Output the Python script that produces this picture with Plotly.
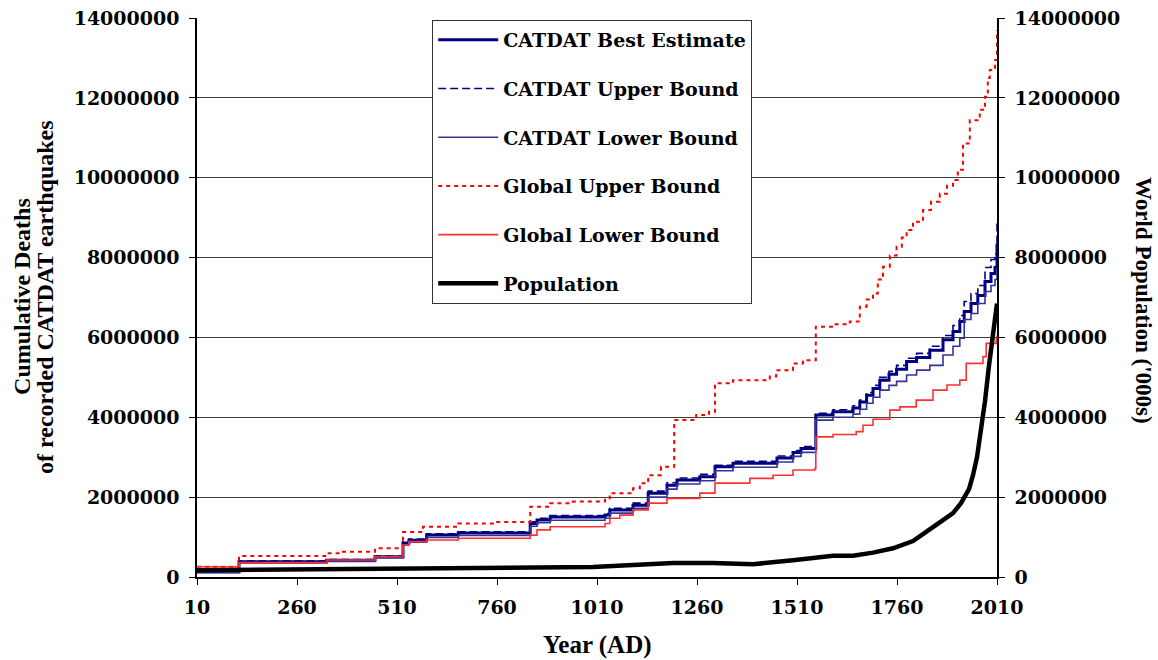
import plotly.graph_objects as go

# ---------------- data ----------------
cat_years = [10, 115, 334, 455, 525, 540, 584, 663, 843, 860,
             893, 1030, 1042, 1100, 1138, 1185, 1210, 1267, 1305, 1350,
             1460, 1500, 1520, 1557, 1600, 1650, 1667, 1684, 1700, 1717,
             1740, 1759, 1784, 1809, 1842, 1875, 1900, 1917, 1928, 1945,
             1962, 1980, 1995, 2005, 2010]
catdat_best = [130000, 380000, 420000, 510000, 850000, 920000, 1050000, 1100000, 1340000, 1430000,
               1500000, 1550000, 1680000, 1800000, 2100000, 2300000, 2430000, 2510000, 2760000, 2850000,
               2980000, 3120000, 3220000, 4060000, 4140000, 4230000, 4380000, 4550000, 4720000, 4930000,
               5080000, 5200000, 5400000, 5500000, 5680000, 5940000, 6150000, 6400000, 6650000, 6850000,
               7050000, 7400000, 7600000, 7750000, 8350000]
catdat_upper = [140000, 400000, 440000, 530000, 880000, 950000, 1080000, 1130000, 1380000, 1470000,
                1540000, 1590000, 1720000, 1850000, 2150000, 2360000, 2480000, 2570000, 2800000, 2900000,
                3030000, 3170000, 3270000, 4100000, 4190000, 4290000, 4430000, 4620000, 4800000, 5000000,
                5150000, 5300000, 5480000, 5600000, 5780000, 6050000, 6300000, 6550000, 6900000, 7100000,
                7300000, 7750000, 7950000, 8100000, 8900000]
catdat_lower = [110000, 350000, 390000, 480000, 800000, 870000, 990000, 1040000, 1270000, 1360000,
                1420000, 1470000, 1600000, 1720000, 2000000, 2200000, 2330000, 2410000, 2660000, 2750000,
                2880000, 3020000, 3120000, 3930000, 4000000, 4080000, 4200000, 4350000, 4500000, 4680000,
                4800000, 4900000, 5060000, 5180000, 5300000, 5560000, 5780000, 5980000, 6450000, 6600000,
                6850000, 7150000, 7300000, 7450000, 7750000]

gu_years = [10, 115, 334, 367, 455, 525, 575, 663, 750, 843,
            893, 950, 1030, 1042, 1100, 1117, 1138, 1170, 1203, 1258,
            1290, 1305, 1350, 1442, 1458, 1500, 1525, 1557, 1600, 1642,
            1667, 1684, 1700, 1712, 1725, 1742, 1759, 1772, 1784, 1800,
            1825, 1845, 1867, 1885, 1900, 1912, 1925, 1942, 1967, 1980,
            1987, 1992, 2005, 2010]
global_upper = [258000, 525000, 593000, 634000, 718000, 1130000, 1260000, 1340000, 1380000, 1760000,
                1850000, 1890000, 1970000, 2100000, 2220000, 2350000, 2550000, 2760000, 3930000, 4060000,
                4140000, 4850000, 4930000, 5020000, 5180000, 5350000, 5430000, 6270000, 6330000, 6400000,
                6770000, 6950000, 7100000, 7450000, 7770000, 8050000, 8270000, 8500000, 8690000, 8900000,
                9190000, 9400000, 9600000, 9800000, 9940000, 10200000, 10860000, 11440000, 11700000, 12030000,
                12500000, 12700000, 12950000, 13700000]

gl_years = [10, 115, 334, 455, 525, 540, 584, 663, 843, 860,
            893, 1030, 1042, 1067, 1100, 1138, 1185, 1267, 1305, 1392,
            1450, 1500, 1555, 1557, 1600, 1658, 1675, 1700, 1742, 1767,
            1808, 1850, 1885, 1917, 1933, 1975, 1983, 2008, 2010]
global_lower = [258000, 360000, 425000, 510000, 800000, 885000, 925000, 970000, 1050000, 1180000,
                1260000, 1340000, 1470000, 1550000, 1680000, 1850000, 1970000, 2100000, 2350000, 2470000,
                2550000, 2680000, 2720000, 3510000, 3570000, 3640000, 3800000, 3950000, 4180000, 4260000,
                4430000, 4680000, 4810000, 4930000, 5350000, 5520000, 5850000, 6000000, 6050000]

pop_years = [10, 200, 400, 600, 800, 1000, 1100, 1200, 1300, 1400,
             1500, 1600, 1650, 1700, 1750, 1800, 1850, 1900, 1920, 1940,
             1950, 1960, 1970, 1980, 1990, 2000, 2010]
population = [170000, 185000, 190000, 200000, 215000, 250000, 300000, 350000, 350000, 320000,
              420000, 530000, 530000, 610000, 720000, 900000, 1250000, 1600000, 1850000, 2200000,
              2550000, 3000000, 3700000, 4400000, 5300000, 6100000, 6850000]

x_ticks = [10, 260, 510, 760, 1010, 1260, 1510, 1760, 2010]
y_ticks = [0, 2000000, 4000000, 6000000, 8000000, 10000000, 12000000, 14000000]

# ---------------- figure ----------------
TICKFONT = dict(family="DejaVu Serif", size=19, color="black", weight="bold")
TITLEFONT = dict(family="Liberation Serif", size=24, color="black", weight="bold")

fig = go.Figure()

fig.add_trace(go.Scatter(x=cat_years, y=catdat_best, mode="lines", name="CATDAT Best Estimate",
                         legendgroup="a", line=dict(color="#000080", width=3, shape="hv")))
fig.add_trace(go.Scatter(x=cat_years, y=catdat_upper, mode="lines", name="CATDAT Upper Bound",
                         legendgroup="b", line=dict(color="#000080", width=1.6, shape="hv", dash="8px,4px")))
fig.add_trace(go.Scatter(x=cat_years, y=catdat_lower, mode="lines", name="CATDAT Lower Bound",
                         legendgroup="c", line=dict(color="#333399", width=1.6, shape="hv")))
fig.add_trace(go.Scatter(x=gu_years, y=global_upper, mode="lines", name="Global Upper Bound",
                         legendgroup="d", line=dict(color="#FF0000", width=2, shape="hv", dash="4px,4px")))
fig.add_trace(go.Scatter(x=gl_years, y=global_lower, mode="lines", name="Global Lower Bound",
                         legendgroup="e", line=dict(color="#FF3030", width=1.6, shape="hv")))
fig.add_trace(go.Scatter(x=pop_years, y=population, mode="lines", name="Population",
                         legendgroup="f", yaxis="y2", line=dict(color="black", width=4.5)))

fig.update_layout(
    width=1158, height=660,
    margin=dict(l=197, r=161, t=18, b=83),
    paper_bgcolor="white", plot_bgcolor="white",
    showlegend=True,
    legend=dict(x=0.294, y=0.9964, xanchor="left", yanchor="top",
                bgcolor="white", bordercolor="#333333", borderwidth=1,
                font=dict(family="DejaVu Serif", size=19, color="black", weight="bold"),
                traceorder="grouped", tracegroupgap=21, itemwidth=60),
    xaxis=dict(range=[10, 2010], tickmode="array", tickvals=x_ticks,
               ticktext=[str(v) for v in x_ticks], automargin=False,
               showline=True, linecolor="black", linewidth=1.5,
               ticks="outside", ticklen=6, tickcolor="black",
               showgrid=False, zeroline=False, tickfont=TICKFONT,
               ticklabelstandoff=6),
    yaxis=dict(range=[0, 14000000], tickmode="array", tickvals=y_ticks,
               ticktext=[str(v) for v in y_ticks], automargin=False,
               showline=True, linecolor="black", linewidth=1.5,
               ticks="outside", ticklen=6, tickcolor="black",
               showgrid=True, gridcolor="#404040", gridwidth=1,
               zeroline=False, tickfont=TICKFONT, ticklabelstandoff=6),
    yaxis2=dict(range=[0, 14000000], tickmode="array", tickvals=y_ticks,
                ticktext=[str(v) for v in y_ticks], automargin=False,
                overlaying="y", side="right",
                showline=True, linecolor="black", linewidth=1.5,
                ticks="outside", ticklen=6, tickcolor="black",
                showgrid=False, zeroline=False, tickfont=TICKFONT, ticklabelstandoff=6),
    annotations=[
        dict(text="Cumulative Deaths", xref="paper", yref="paper", x=-0.21875, y=0.501,
             xanchor="center", yanchor="middle", textangle=-90, showarrow=False, font=TITLEFONT),
        dict(text="of recorded CATDAT earthquakes", xref="paper", yref="paper", x=-0.19, y=0.501,
             xanchor="center", yanchor="middle", textangle=-90, showarrow=False, font=TITLEFONT),
        dict(text="World Population ('000s)", xref="paper", yref="paper", x=1.18375, y=0.4955,
             xanchor="center", yanchor="middle", textangle=90, showarrow=False,
             font=dict(family="Liberation Serif", size=23, color="black", weight="bold")),
        dict(text="Year (AD)", xref="paper", yref="paper", x=0.5, y=-0.1216,
             xanchor="center", yanchor="middle", showarrow=False,
             font=dict(family="Liberation Serif", size=25, color="black", weight="bold")),
    ],
)

fig.write_html("out.html")
